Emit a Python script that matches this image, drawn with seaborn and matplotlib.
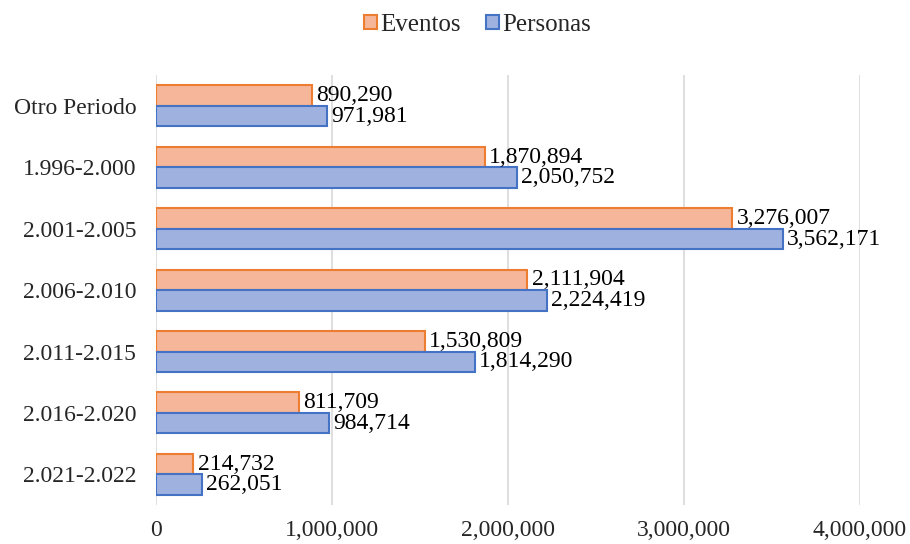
import matplotlib
matplotlib.use("Agg")
import matplotlib.pyplot as plt
from matplotlib.patches import Patch
import seaborn as sns
import pandas as pd

periodos = ["Otro Periodo", "1.996-2.000", "2.001-2.005", "2.006-2.010",
            "2.011-2.015", "2.016-2.020", "2.021-2.022"]
eventos = [890290, 1870894, 3276007, 2111904, 1530809, 811709, 214732]
personas = [971981, 2050752, 3562171, 2224419, 1814290, 984714, 262051]
xticks = [0, 1000000, 2000000, 3000000, 4000000]

df = pd.DataFrame({
    "periodo": periodos * 2,
    "valor": eventos + personas,
    "serie": ["Eventos"] * len(periodos) + ["Personas"] * len(periodos),
})

sns.set_theme(style="white")
plt.rcParams["font.family"] = ["Liberation Serif", "DejaVu Serif"]
FS = 17

fig = plt.figure(figsize=(9.1, 5.44), dpi=100)
ax = fig.add_axes([0.171, 0.0717, 0.774, 0.790])

fills = {"Eventos": "#F5B699", "Personas": "#9FB1DF"}
edges = {"Eventos": "#ED7D31", "Personas": "#4472C4"}

sns.barplot(data=df, y="periodo", x="valor", hue="serie", order=periodos,
            hue_order=["Eventos", "Personas"], palette=fills, orient="h",
            width=0.67, gap=0, ax=ax, legend=False, saturation=1)

n = len(periodos)
for i, bar in enumerate(ax.patches[:2 * n]):
    serie = "Eventos" if i < n else "Personas"
    bar.set_edgecolor(edges[serie])
    bar.set_linewidth(1.5)

for cont in ax.containers:
    ax.bar_label(cont, labels=[f"{v:,.0f}" for v in cont.datavalues],
                 padding=3, fontsize=FS, color="black")

ax.set_xlim(0, 4000000)
ax.set_xticks(xticks)
ax.set_xticklabels([f"{v:,}" for v in xticks], fontsize=FS)
ax.tick_params(axis="x", length=0, pad=11)
ax.tick_params(axis="y", length=0, pad=14, labelsize=FS)
ax.grid(axis="x", color="#D9D9D9", linewidth=1.2)
ax.set_axisbelow(True)
for s in ax.spines.values():
    s.set_visible(False)
ax.set_xlabel("")
ax.set_ylabel("")

handles = [Patch(facecolor=fills[k], edgecolor=edges[k], linewidth=1.5, label=k)
           for k in ["Eventos", "Personas"]]
fig.legend(handles=handles, loc="center", bbox_to_anchor=(0.525, 0.954), ncol=2,
           frameon=False, fontsize=18, handlelength=0.5, handleheight=0.5,
           handletextpad=0.15, columnspacing=1.0)

fig.savefig("out.png", dpi=100)
